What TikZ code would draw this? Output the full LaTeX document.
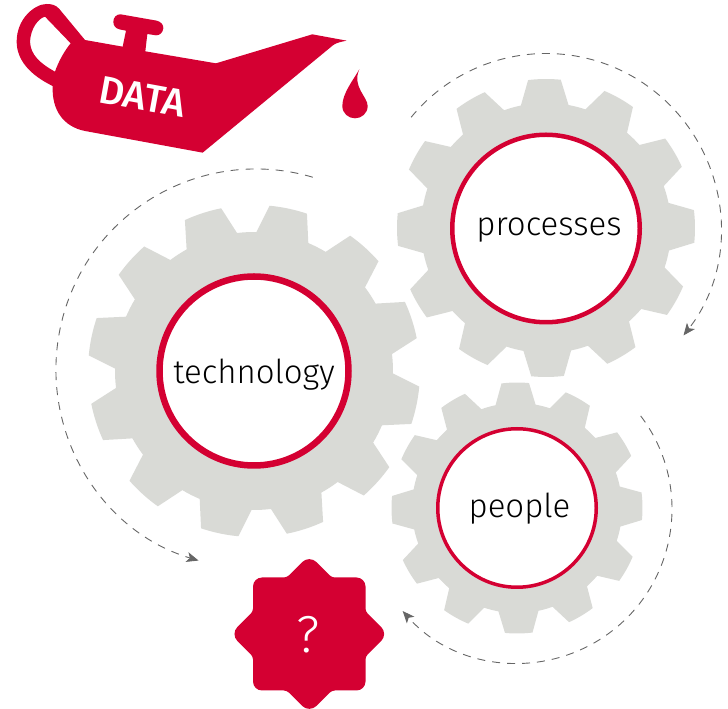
\documentclass[tikz,border=0pt]{standalone}
\usepackage{fontspec}
\setmainfont{Fira Sans}
\newfontfamily\labelfont{Fira Sans Light}
\newfontfamily\datafont{Fira Sans Medium}
\usetikzlibrary{arrows.meta,calc}
\definecolor{brandred}{HTML}{D40032}
\definecolor{gearfill}{HTML}{D9DAD6}
\definecolor{flowgray}{HTML}{666666}
\newcommand{\gearshape}[6]{% cx cy R r rot ha hb
  \fill[gearfill,shift={(#1pt,#2pt)}] (#5-11:#4pt)
  \foreach \k in {0,...,11}{
    -- ({#5+30*\k-#6}:#3pt)
    arc[start angle={#5+30*\k-#6},end angle={#5+30*\k+#6},radius=#3pt]
    -- ({#5+30*\k+11}:#4pt)
    arc[start angle={#5+30*\k+11},end angle={#5+30*\k+19},radius=#4pt]
  } -- cycle;
}
\tikzset{
  ring/.style={circle,draw=brandred,fill=white,inner sep=0pt,outer sep=0pt},
  gearlabel/.style={anchor=base,inner sep=0pt,text=black,font=\labelfont\fontsize{33}{33}\selectfont},
  flow/.style={draw=flowgray,line width=0.9pt,dash pattern=on 8pt off 7pt,-{Stealth[length=12pt,width=10pt,inset=3pt]}},
  redshape/.style={fill=brandred,draw=none}
}
\begin{document}
\begin{tikzpicture}[x=1pt,y=1pt]
\useasboundingbox (0,0) rectangle (728,709);
% gears
\gearshape{546}{481}{149}{125}{0.6}{6.3}
\gearshape{254}{338}{166}{139}{18}{6.6}
\gearshape{517}{201}{125.5}{105}{0.8}{6.3}
% rings
\node[ring,line width=4.5pt,minimum size=187.5pt] (procring) at (546,480.5) {};
\node[ring,line width=6.5pt,minimum size=189pt] (techring) at (254,338) {};
\node[ring,line width=3.5pt,minimum size=158.5pt] (peopring) at (517,201) {};
\node[gearlabel] (proc) at (549,473) {processes};
\node[gearlabel] (tech) at (254,325.5) {technology};
\node[gearlabel] (peop) at (519.5,191.5) {people};
% flows
\coordinate (procc) at (546,481);
\coordinate (techc) at (256,340);
\coordinate (peopc) at (518,200);
\draw[flow] ($(procc)+(140.6:174.5)$) arc[start angle=140.6,end angle=-38,radius=174.5];
\draw[flow] ($(techc)+(73.5:200)$) arc[start angle=73.5,end angle=253.3,radius=200];
\draw[flow] ($(peopc)+(37.2:154)$) arc[start angle=37.2,end angle=-138.5,radius=154];
% oil can
\begin{scope}[x=0.33333pt,y=-0.33333pt,yshift=709pt]
\fill[redshape,even odd rule]
  (255,120) -- (368,140) -- (378,92) -- (358,88)
  .. controls (345,85) and (340,75) .. (340,65)
  .. controls (340,52) and (350,42) .. (362,43)
  -- (470,62)
  .. controls (483,65) and (491,75) .. (490,85)
  .. controls (488,98) and (480,106) .. (468,106)
  -- (442,102) -- (436,154) -- (648,190) -- (937,103) -- (1040,122)
  .. controls (1025,125) and (1010,128) .. (1000,135)
  -- (608,458) -- (255,393)
  .. controls (190,380) and (155,330) .. (158,258)
  .. controls (90,225) and (50,180) .. (50,125)
  .. controls (50,55) and (105,12) .. (140,12)
  .. controls (155,12) and (168,15) .. (178,27)
  -- cycle
  (135,50) -- (212,130)
  .. controls (195,150) and (175,185) .. (165,215)
  .. controls (120,190) and (92,165) .. (90,125)
  .. controls (92,85) and (115,55) .. (135,50) -- cycle;
\fill[redshape] (1078,208)
  .. controls (1060,240) and (1027,280) .. (1027,318)
  .. controls (1027,340) and (1045,355) .. (1065,355)
  .. controls (1085,355) and (1103,340) .. (1103,318)
  .. controls (1103,290) and (1055,260) .. (1078,208) -- cycle;
\end{scope}
\node[inner sep=0pt,text=white,rotate=-10.4,font=\datafont\fontsize{39}{39}\selectfont] (data) at (142.7,612.3) {DATA};
% badge
\fill[redshape]
  [rounded corners=10pt] (309.3,154)
  [rounded corners=3pt] -- (331.8,131.5)
  [rounded corners=9pt] -- (365.5,131.5)
  [rounded corners=3pt] -- (365.5,97.5)
  [rounded corners=10pt] -- (388.3,75)
  [rounded corners=3pt] -- (365.5,52.5)
  [rounded corners=9pt] -- (365.5,18.5)
  [rounded corners=3pt] -- (331.8,18.5)
  [rounded corners=10pt] -- (309.3,-4)
  [rounded corners=3pt] -- (286.8,18.5)
  [rounded corners=9pt] -- (253,18.5)
  [rounded corners=3pt] -- (253,52.5)
  [rounded corners=10pt] -- (230.3,75)
  [rounded corners=3pt] -- (253,97.5)
  [rounded corners=9pt] -- (253,131.5)
  [rounded corners=3pt] -- (286.8,131.5)
  [rounded corners=10pt] -- cycle;
\node[inner sep=0pt,text=white,font=\labelfont\fontsize{52}{52}\selectfont] (q) at (308.5,74.5) {?};
\end{tikzpicture}
\end{document}
